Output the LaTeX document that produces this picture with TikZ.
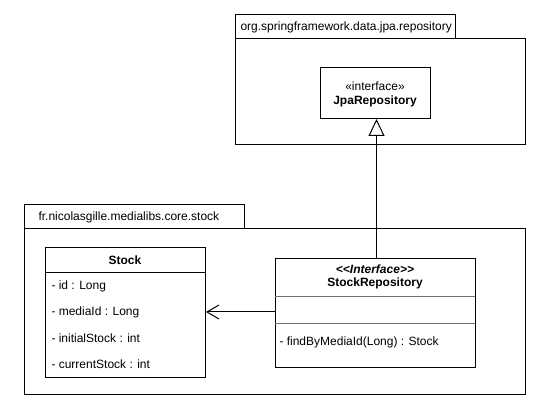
\documentclass[tikz,border=0pt]{standalone}
\usepackage{fontspec}
\setmainfont{Liberation Sans}
\usetikzlibrary{arrows.meta}
\begin{document}
\begin{tikzpicture}[x=1pt,y=-1pt,
  line width=1pt,
  every node/.style={font=\fontsize{12}{14}\selectfont, inner sep=0pt},
  frame/.style={draw=black, fill=white},
  divider/.style={draw=black!55, line width=0.8pt},
  lbl/.style={anchor=west},
  inherit/.style={-{Triangle[open,length=17pt,width=16pt]}},
  assoc/.style={-{Straight Barb[length=12pt,width=14pt,line width=1pt]}}]
\useasboundingbox (0,0) rectangle (541,411);
% package 1
\draw[frame] (235,15) rectangle (455,39);
\draw[frame] (235,39) rectangle (525,145);
\node[lbl] (p1) at (240,27) {org.springframework.data.jpa.repository};
\node[frame, minimum width=110pt, minimum height=51pt, anchor=north west] (jpa) at (320,67) {};
\node (jpas) at (375,86) {«interface»};
\node (jpan) at (375,101) {\bfseries JpaRepository};
% package 2
\draw[frame] (24,205) rectangle (244,229);
\draw[frame] (24,229) rectangle (525,395);
\node[lbl] (p2) at (38,217) {fr.nicolasgille.medialibs.core.stock};
% Stock class
\node[frame, minimum width=160pt, minimum height=130pt, anchor=north west] (stock) at (45,247) {};
\draw (45,273) -- (205,273);
\node (stockn) at (125,260) {\bfseries Stock};
\node[lbl] (a1) at (51,286) {- id : Long};
\node[lbl] (a2) at (51,312) {- mediaId : Long};
\node[lbl] (a3) at (51,338) {- initialStock : int};
\node[lbl] (a4) at (51,364) {- currentStock : int};
% StockRepository
\node[frame, minimum width=200pt, minimum height=109pt, anchor=north west] (repo) at (275,258) {};
\node (repos) at (375,269) {\bfseries\itshape <{}<Interface>{}>};
\node (repon) at (375,283) {\bfseries StockRepository};
\draw[divider] (275,296) -- (475,296);
\draw[divider] (275,323) -- (475,323);
\node[lbl] (m1) at (279,342) {- findByMediaId(Long) : Stock};
% connectors
\draw[inherit] (repo.north -| jpa.south) ++(1,0) coordinate (rtop) -- (rtop |- jpa.south);
\draw[assoc] (repo.west |- a2) -- (stock.east |- a2);
\end{tikzpicture}
\end{document}
